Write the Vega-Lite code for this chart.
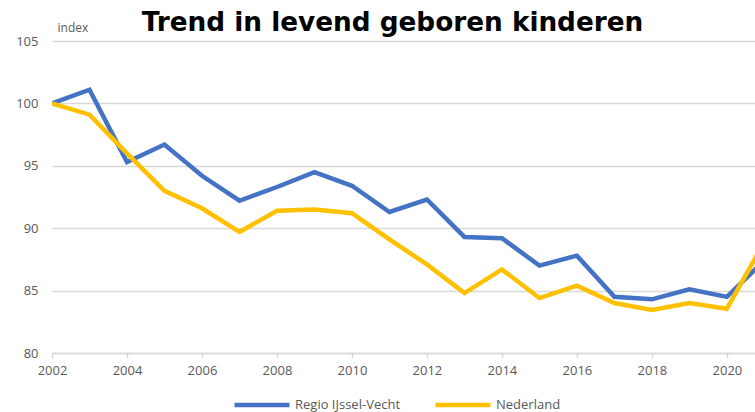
{
  "$schema": "https://vega.github.io/schema/vega-lite/v6.json",
  "autosize": "none",
  "width": 703,
  "height": 312,
  "padding": {"left": 52, "top": 41, "right": 0, "bottom": 59},
  "background": "white",
  "title": {
    "text": "Trend in levend geboren kinderen",
    "font": "DejaVu Sans",
    "fontSize": 26.3,
    "fontWeight": "bold",
    "color": "#000000",
    "anchor": "middle",
    "dx": -11,
    "baseline": "alphabetic",
    "offset": -36
  },
  "config": {
    "view": {"stroke": null},
    "font": "Open Sans",
    "axis": {"labelFont": "Open Sans", "labelFontSize": 13, "labelColor": "#595959", "gridColor": "#d9d9d9", "gridWidth": 1.5}
  },
  "data": {
    "values": [
      {"year": 2002, "series": "Regio IJssel-Vecht", "index": 100},
      {"year": 2003, "series": "Regio IJssel-Vecht", "index": 101.1},
      {"year": 2004, "series": "Regio IJssel-Vecht", "index": 95.3},
      {"year": 2005, "series": "Regio IJssel-Vecht", "index": 96.7},
      {"year": 2006, "series": "Regio IJssel-Vecht", "index": 94.2},
      {"year": 2007, "series": "Regio IJssel-Vecht", "index": 92.2},
      {"year": 2008, "series": "Regio IJssel-Vecht", "index": 93.3},
      {"year": 2009, "series": "Regio IJssel-Vecht", "index": 94.5},
      {"year": 2010, "series": "Regio IJssel-Vecht", "index": 93.4},
      {"year": 2011, "series": "Regio IJssel-Vecht", "index": 91.3},
      {"year": 2012, "series": "Regio IJssel-Vecht", "index": 92.3},
      {"year": 2013, "series": "Regio IJssel-Vecht", "index": 89.3},
      {"year": 2014, "series": "Regio IJssel-Vecht", "index": 89.2},
      {"year": 2015, "series": "Regio IJssel-Vecht", "index": 87.0},
      {"year": 2016, "series": "Regio IJssel-Vecht", "index": 87.8},
      {"year": 2017, "series": "Regio IJssel-Vecht", "index": 84.5},
      {"year": 2018, "series": "Regio IJssel-Vecht", "index": 84.3},
      {"year": 2019, "series": "Regio IJssel-Vecht", "index": 85.1},
      {"year": 2020, "series": "Regio IJssel-Vecht", "index": 84.5},
      {"year": 2021, "series": "Regio IJssel-Vecht", "index": 87.4},
      {"year": 2002, "series": "Nederland", "index": 100},
      {"year": 2003, "series": "Nederland", "index": 99.1},
      {"year": 2004, "series": "Nederland", "index": 96.0},
      {"year": 2005, "series": "Nederland", "index": 93.0},
      {"year": 2006, "series": "Nederland", "index": 91.6},
      {"year": 2007, "series": "Nederland", "index": 89.7},
      {"year": 2008, "series": "Nederland", "index": 91.4},
      {"year": 2009, "series": "Nederland", "index": 91.5},
      {"year": 2010, "series": "Nederland", "index": 91.2},
      {"year": 2011, "series": "Nederland", "index": 89.1},
      {"year": 2012, "series": "Nederland", "index": 87.1},
      {"year": 2013, "series": "Nederland", "index": 84.8},
      {"year": 2014, "series": "Nederland", "index": 86.7},
      {"year": 2015, "series": "Nederland", "index": 84.4},
      {"year": 2016, "series": "Nederland", "index": 85.4},
      {"year": 2017, "series": "Nederland", "index": 84.0},
      {"year": 2018, "series": "Nederland", "index": 83.45},
      {"year": 2019, "series": "Nederland", "index": 84.0},
      {"year": 2020, "series": "Nederland", "index": 83.55},
      {"year": 2021, "series": "Nederland", "index": 88.9}
    ]
  },
  "mark": {"type": "line", "strokeWidth": 4.5, "clip": true, "strokeJoin": "miter", "strokeCap": "butt"},
  "encoding": {
    "x": {
      "field": "year",
      "type": "quantitative",
      "scale": {"domain": [2002, 2020.75], "nice": false, "zero": false},
      "axis": {
        "title": null,
        "values": [2002, 2004, 2006, 2008, 2010, 2012, 2014, 2016, 2018, 2020],
        "format": "d",
        "grid": false,
        "domain": true,
        "domainColor": "#d9d9d9",
        "domainWidth": 1.5,
        "ticks": true,
        "tickColor": "#d9d9d9",
        "tickWidth": 1.5,
        "tickSize": 5,
        "labelPadding": 6,
        "labelFlush": false,
        "labelOverlap": false
      }
    },
    "y": {
      "field": "index",
      "type": "quantitative",
      "scale": {"domain": [80, 105], "nice": false, "zero": false},
      "axis": {
        "values": [80, 85, 90, 95, 100, 105],
        "title": "index",
        "titleAngle": 0,
        "titleX": 5,
        "titleY": -10,
        "titleAlign": "left",
        "titleBaseline": "alphabetic",
        "titleFont": "Open Sans",
        "titleFontSize": 12,
        "titleFontWeight": "normal",
        "titleColor": "#595959",
        "domain": false,
        "ticks": false,
        "labelPadding": 14,
        "grid": true
      }
    },
    "color": {
      "field": "series",
      "type": "nominal",
      "sort": ["Regio IJssel-Vecht", "Nederland"],
      "scale": {"domain": ["Regio IJssel-Vecht", "Nederland"], "range": ["#4472C4", "#FFC000"]},
      "legend": {
        "title": null,
        "orient": "none",
        "direction": "horizontal",
        "legendX": 180,
        "legendY": 334,
        "symbolType": "stroke",
        "symbolSize": 3025,
        "symbolStrokeWidth": 4.5,
        "labelFont": "Open Sans",
        "labelFontSize": 13,
        "labelColor": "#595959",
        "labelOffset": 3,
        "columnPadding": 25
      }
    }
  }
}
